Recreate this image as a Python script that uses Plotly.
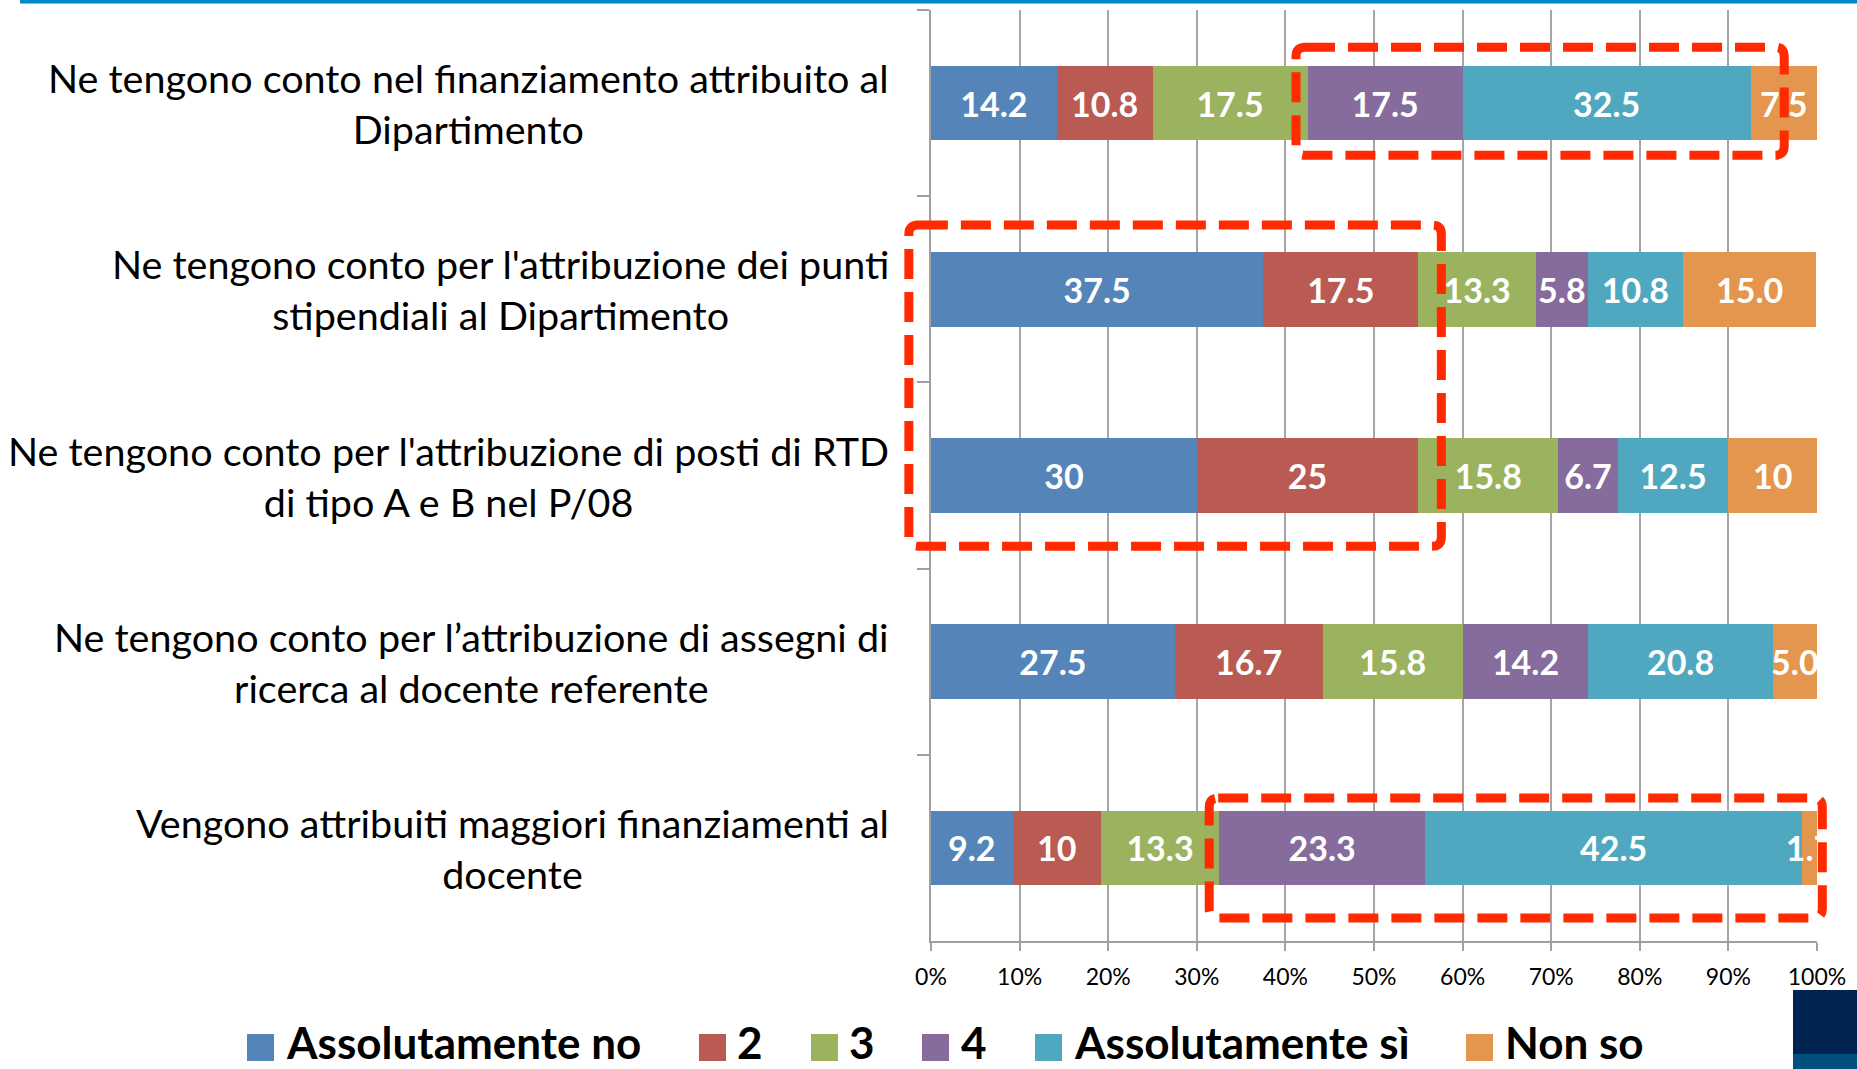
import plotly.graph_objects as go

# ---------------- data ----------------
categories = [
    "Ne tengono conto nel finanziamento attribuito al<br>Dipartimento",
    "Ne tengono conto per l'attribuzione dei punti<br>stipendiali al Dipartimento",
    "Ne tengono conto per l'attribuzione di posti di RTD<br>di tipo A e B nel P/08",
    "Ne tengono conto per l’attribuzione di assegni di<br>ricerca al docente referente",
    "Vengono attribuiti maggiori finanziamenti al<br>docente",
]
series_names = ["Assolutamente no", "2", "3", "4", "Assolutamente sì", "Non so"]

assolutamente_no = [14.2, 37.5, 30, 27.5, 9.2]
val_2 = [10.8, 17.5, 25, 16.7, 10]
val_3 = [17.5, 13.3, 15.8, 15.8, 13.3]
val_4 = [17.5, 5.8, 6.7, 14.2, 23.3]
assolutamente_si = [32.5, 10.8, 12.5, 20.8, 42.5]
non_so = [7.5, 15.0, 10, 5.0, 1.7]

labels_assolutamente_no = ["14.2", "37.5", "30", "27.5", "9.2"]
labels_2 = ["10.8", "17.5", "25", "16.7", "10"]
labels_3 = ["17.5", "13.3", "15.8", "15.8", "13.3"]
labels_4 = ["17.5", "5.8", "6.7", "14.2", "23.3"]
labels_assolutamente_si = ["32.5", "10.8", "12.5", "20.8", "42.5"]
labels_non_so = ["7.5", "15.0", "10", "5.0", "1.7"]

x_tick_values = [0, 10, 20, 30, 40, 50, 60, 70, 80, 90, 100]
x_tick_labels = ["0%", "10%", "20%", "30%", "40%", "50%", "60%", "70%", "80%", "90%", "100%"]

# ---------------- styling / layout ----------------
series_values = [assolutamente_no, val_2, val_3, val_4, assolutamente_si, non_so]
series_labels = [labels_assolutamente_no, labels_2, labels_3, labels_4,
                 labels_assolutamente_si, labels_non_so]
colors = ["#5585B8", "#B95A53", "#9BB35E", "#866B9D", "#4FA8C0", "#E4964E"]

FONT = "Lato"
W, H = 1857, 1069
L, R, T, B = 931, 40, 10, 128
PW, PH = W - L - R, H - T - B
NCAT = len(categories)


def px(x):
    return (x - L) / PW


def py(y):
    return (H - B - y) / PH


fig = go.Figure()
for name, vals, labs, col in zip(series_names, series_values, series_labels, colors):
    fig.add_trace(go.Bar(
        orientation="h",
        y=categories,
        x=vals,
        name=name,
        marker=dict(color=col, line=dict(width=0)),
        text=labs,
        textposition="inside",
        insidetextanchor="middle",
        textangle=0,
        constraintext="none",
        cliponaxis=True,
        textfont=dict(family=FONT, size=34, color="white", weight="bold"),
        showlegend=False,
        hoverinfo="x+y+name",
    ))

shapes = []
annotations = []

# top blue rule
shapes.append(dict(type="rect", xref="paper", yref="paper",
                   x0=px(20), x1=px(W + 2), y0=py(-1), y1=py(3.5),
                   fillcolor="#0086CB", line=dict(width=0), layer="above"))
# bottom-right navy block
shapes.append(dict(type="rect", xref="paper", yref="paper",
                   x0=px(1793), x1=px(W + 2), y0=py(990), y1=py(1054),
                   fillcolor="#00234F", line=dict(width=0)))
shapes.append(dict(type="rect", xref="paper", yref="paper",
                   x0=px(1793), x1=px(W + 2), y0=py(1054), y1=py(H + 2),
                   fillcolor="#00507F", line=dict(width=0)))

# red dashed highlight boxes (x in % of axis, y in category index)
highlight_boxes = [
    (41.2, 96.3, -0.30, 0.28),
    (-2.5, 57.6, 0.655, 2.38),
    (31.4, 100.6, 3.732, 4.376),
]


def rounded_path(x0, x1, y0, y1, r=9):
    # convert to paper coordinates
    X0, X1 = x0 / 100.0, x1 / 100.0
    Y0 = (NCAT - 0.5 - y0) / NCAT
    Y1 = (NCAT - 0.5 - y1) / NCAT
    rx, ry = r / PW, r / PH
    top, bot = max(Y0, Y1), min(Y0, Y1)
    return (f"M{X0 + rx},{top} L{X1 - rx},{top} Q{X1},{top} {X1},{top - ry} "
            f"L{X1},{bot + ry} Q{X1},{bot} {X1 - rx},{bot} "
            f"L{X0 + rx},{bot} Q{X0},{bot} {X0},{bot + ry} "
            f"L{X0},{top - ry} Q{X0},{top} {X0 + rx},{top} Z")


for x0, x1, y0, y1 in highlight_boxes:
    shapes.append(dict(type="path", xref="paper", yref="paper",
                       path=rounded_path(x0, x1, y0, y1),
                       line=dict(color="#FF2A00", width=9, dash="30px,13px"),
                       fillcolor="rgba(0,0,0,0)", layer="above"))

# category labels (centered multi-line, right-aligned block)
for cat in categories:
    annotations.append(dict(xref="paper", yref="y", x=0, y=cat,
                            xanchor="right", yanchor="middle", xshift=-40,
                            text=cat, showarrow=False, align="center",
                            font=dict(family=FONT, size=39.5, color="black")))

# manual legend
legend_square_x = [247, 699, 811, 922, 1035, 1466]
legend_text_x = [285, 736, 848, 960, 1073, 1504]
for name, col, sx, tx in zip(series_names, colors, legend_square_x, legend_text_x):
    shapes.append(dict(type="rect", xref="paper", yref="paper",
                       x0=px(sx), x1=px(sx + 27), y0=py(1061), y1=py(1034),
                       fillcolor=col, line=dict(width=0)))
    annotations.append(dict(xref="paper", yref="paper", x=px(tx), y=py(1042),
                            xanchor="left", yanchor="middle", text=name,
                            showarrow=False, borderpad=0,
                            font=dict(family=FONT, size=44, color="black",
                                      weight="bold")))

fig.update_layout(
    width=W, height=H, autosize=False,
    margin=dict(l=L, r=R, t=T, b=B, pad=0),
    paper_bgcolor="white", plot_bgcolor="white",
    barmode="stack", bargap=0.6,
    font=dict(family=FONT, color="black"),
    shapes=shapes, annotations=annotations,
    showlegend=False,
)
fig.update_xaxes(
    range=[0, 100], tickvals=x_tick_values, ticktext=x_tick_labels,
    showgrid=True, gridcolor="#A6A6A6", gridwidth=1.5,
    showline=True, linecolor="#A0A0A0", linewidth=2,
    ticks="outside", ticklen=8, tickcolor="#A0A0A0", tickwidth=2,
    zeroline=False, ticklabelstandoff=6,
    tickfont=dict(family=FONT, size=23, color="black"),
)
fig.update_yaxes(
    type="category", autorange="reversed",
    showgrid=False, showline=True, linecolor="#A0A0A0", linewidth=2,
    ticks="outside", tickson="boundaries", ticklen=12, tickcolor="#A0A0A0",
    tickwidth=2, showticklabels=False, zeroline=False,
)

fig.write_html(
    "out.html",
    config={"displayModeBar": False},
    post_script="document.body.style.margin='0';document.body.style.overflow='hidden';",
)
